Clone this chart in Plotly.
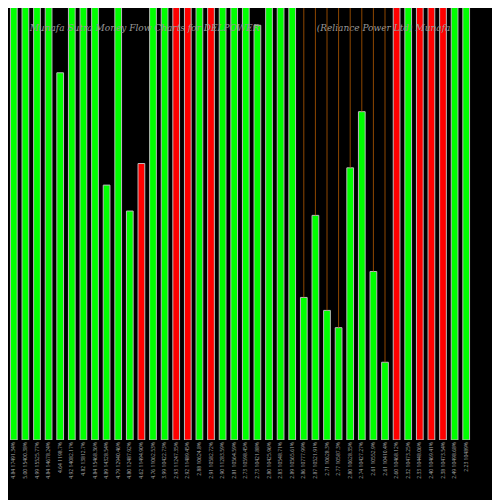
import plotly.graph_objects as go

labels = ["4.84 17491.34%", "5.00 15400.38%", "4.99 15525.77%", "4.84 14678.24%",
          "4.64 1198.7%", "4.92 14082.17%", "4.82 13812.7%", "4.84 15468.36%",
          "4.89 14328.54%", "4.79 12940.46%", "4.80 12487.92%", "4.62 11494.90%",
          "4.76 11062.53%", "3.99 10422.73%", "2.93 11247.35%", "2.92 11489.45%",
          "2.88 10624.8%", "2.91 10582.72%", "2.90 11283.59%", "2.81 10564.59%",
          "2.73 10598.45%", "2.73 10421.88%", "2.80 10425.96%", "2.83 10548.71%",
          "2.89 10565.61%", "2.86 10777.99%", "2.87 10521.91%", "2.71 10628.3%",
          "2.77 10587.3%", "2.80 10628.35%", "2.74 10427.27%", "2.61 10552.9%",
          "2.61 10410.4%", "2.60 10468.12%", "2.32 10473.25%", "2.33 10448.06%",
          "2.40 10469.41%", "2.38 10473.54%", "2.49 10498.68%", "2.23 10489%"]
values = [120, 120, 120, 120, 85, 120, 120, 120, 59, 120,
          53, 64, 120, 120, 120, 120, 120, 120, 120, 120,
          120, 96, 120, 120, 120, 33, 52, 30, 26, 63,
          76, 39, 18, 120, 120, 120, 120, 120, 120, 120]
colors = ["g", "g", "g", "g", "g", "g", "g", "g", "g", "g",
          "g", "r", "g", "g", "r", "r", "g", "r", "g", "g",
          "g", "g", "g", "g", "g", "g", "g", "g", "g", "g",
          "g", "g", "g", "r", "g", "r", "r", "r", "g", "g"]
wick_bars = [25, 26, 27, 28, 29, 30, 31, 32]
title = ("Munafa Sutra Money Flow Charts for DELPOWER"
         "                    (Reliance Power Ltd) Munafa")

cmap = {"g": "#00ff00", "r": "#ff0000"}
x = list(range(len(values)))

wx, wy = [], []
for i in wick_bars:
    wx += [i, i, None]
    wy += [values[i], 100, None]

fig = go.Figure()
# title text sits behind the bars, as in the original
fig.add_trace(go.Scatter(x=[19.5], y=[95.2], mode="text", text=[title],
                         textfont=dict(family="DejaVu Serif", size=9, color="#999999",
                                       style="italic"),
                         hoverinfo="skip"))
fig.add_trace(go.Scatter(x=wx, y=wy, mode="lines",
                         line=dict(color="#b35900", width=0.8), hoverinfo="skip"))
fig.add_trace(go.Bar(x=x, y=values, marker=dict(color=[cmap[c] for c in colors],
                     line=dict(color="#bbbbbb", width=1))))

fig.update_layout(
    width=500, height=500, showlegend=False,
    paper_bgcolor="black", plot_bgcolor="black",
    margin=dict(l=0, r=36, t=0, b=68), bargap=0.42,
    xaxis=dict(tickmode="array", tickvals=x, ticktext=labels, tickangle=-90,
               range=[-0.5, len(x) - 0.5], showgrid=False, zeroline=False,
               tickfont=dict(size=5, color="#aaaaaa")),
    yaxis=dict(range=[0, 100], visible=False),
)

fig.write_html("out.html")
